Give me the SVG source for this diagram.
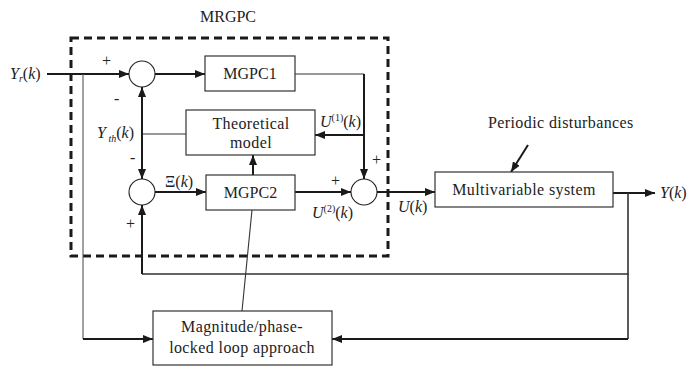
<svg xmlns="http://www.w3.org/2000/svg" width="690" height="367" viewBox="0 0 690 367" font-family="'Liberation Serif', 'Times New Roman', serif">
<defs>
<marker id="ah" markerUnits="userSpaceOnUse" markerWidth="10" markerHeight="8" refX="10" refY="4" orient="auto"><path d="M0,0 L10,4 L0,8 Z" fill="#1a1a1a"/></marker>
<style>
.box{fill:#fff;stroke:#333;stroke-width:1.2}
.sum{fill:#fff;stroke:#222;stroke-width:1.1}
.thick{fill:none;stroke:#1a1a1a;stroke-width:2}
.thin{fill:none;stroke:#333;stroke-width:1.1}
.arr{marker-end:url(#ah)}
.dash{fill:none;stroke:#1a1a1a;stroke-width:3;stroke-dasharray:8 5}
text{font-family:'Liberation Serif','Times New Roman',serif;font-size:16px;fill:#222}
.c{text-anchor:middle}
.i{font-style:italic}
.s{font-size:10px}
.w{letter-spacing:0.4px}
</style>
</defs>
<rect width="690" height="367" fill="#fff"/>
<g id="mrgpc-frame">
<rect class="dash" x="71" y="38" width="317" height="218"/>
<text x="200" y="22">MRGPC</text>
</g>
<g id="connectors">
<path class="thick arr" d="M47,74 H129"/>
<path class="thick arr" d="M155,74 H205"/>
<path class="thin" d="M295,74 H364"/>
<path class="thick arr" d="M364,74 V179"/>
<path class="thick arr" d="M364,135 H315"/>
<path class="thin" d="M186,134 H142"/>
<path class="thick arr" d="M142,134 V87"/>
<path class="thick arr" d="M142,134 V179"/>
<path class="thick arr" d="M155,192 H206"/>
<path class="thick arr" d="M253,175 V155"/>
<path class="thick arr" d="M295,192 H351"/>
<path class="thick arr" d="M377,192 H435"/>
<path class="thick arr" d="M613,193 H655"/>
<path class="thin" style="stroke-width:1.6" d="M628,193 V274 H142"/>
<path class="thick arr" d="M142,274 V205"/>
<path class="thin" style="stroke-width:1.6" d="M628,274 V339"/>
<path class="thick arr" d="M628,339 H332"/>
<path class="thin" style="stroke:#555" d="M83,74 V339"/>
<path class="thick arr" d="M83,339 H153"/>
<path class="thin" d="M242,311 L252,210"/>
<path class="thick arr" d="M528,145 L511,172"/>
</g>
<g id="sum1"><circle class="sum" cx="142" cy="74" r="13"/></g>
<g id="sum2"><circle class="sum" cx="142" cy="192" r="13"/></g>
<g id="sum3"><circle class="sum" cx="364" cy="192" r="13"/></g>
<g id="mgpc1"><rect class="box" x="205" y="56" width="90" height="35"/><text class="c" x="250" y="79">MGPC1</text></g>
<g id="theoretical-model"><rect class="box" x="186" y="110" width="129" height="45"/><text class="c w" x="251" y="129">Theoretical</text><text class="c w" x="251" y="148">model</text></g>
<g id="mgpc2"><rect class="box" x="206" y="175" width="89" height="35"/><text class="c" x="250.5" y="198">MGPC2</text></g>
<g id="multivariable-system"><rect class="box" x="435" y="172" width="178" height="35"/><text class="c w" x="524" y="195">Multivariable system</text></g>
<g id="pll"><rect class="box" x="153" y="311" width="179" height="54"/><text class="c w" x="242" y="332">Magnitude/phase-</text><text class="c w" x="242" y="353">locked loop approach</text></g>
<g id="labels">
<text x="10" y="79"><tspan class="i">Y</tspan><tspan class="i s" dy="3">r</tspan><tspan dy="-3">(</tspan><tspan class="i">k</tspan>)</text>
<text x="102" y="66">+</text>
<text x="114" y="104">-</text>
<text x="97" y="138"><tspan class="i">Y</tspan><tspan class="i s" dy="4"> th</tspan><tspan dy="-4">(</tspan><tspan class="i">k</tspan>)</text>
<text x="130" y="163">-</text>
<text x="165" y="187">Ξ(<tspan class="i">k</tspan>)</text>
<text x="126" y="229">+</text>
<text x="320" y="127"><tspan class="i">U</tspan><tspan class="s" dy="-6">(1)</tspan><tspan dy="6">(</tspan><tspan class="i">k</tspan>)</text>
<text x="372" y="165">+</text>
<text x="331" y="186">+</text>
<text x="312" y="218"><tspan class="i">U</tspan><tspan class="s" dy="-6">(2)</tspan><tspan dy="6">(</tspan><tspan class="i">k</tspan>)</text>
<text x="398" y="212"><tspan class="i">U</tspan>(<tspan class="i">k</tspan>)</text>
<text class="w" x="488" y="128">Periodic disturbances</text>
<text x="660" y="198"><tspan class="i">Y</tspan>(<tspan class="i">k</tspan>)</text>
</g>
</svg>
